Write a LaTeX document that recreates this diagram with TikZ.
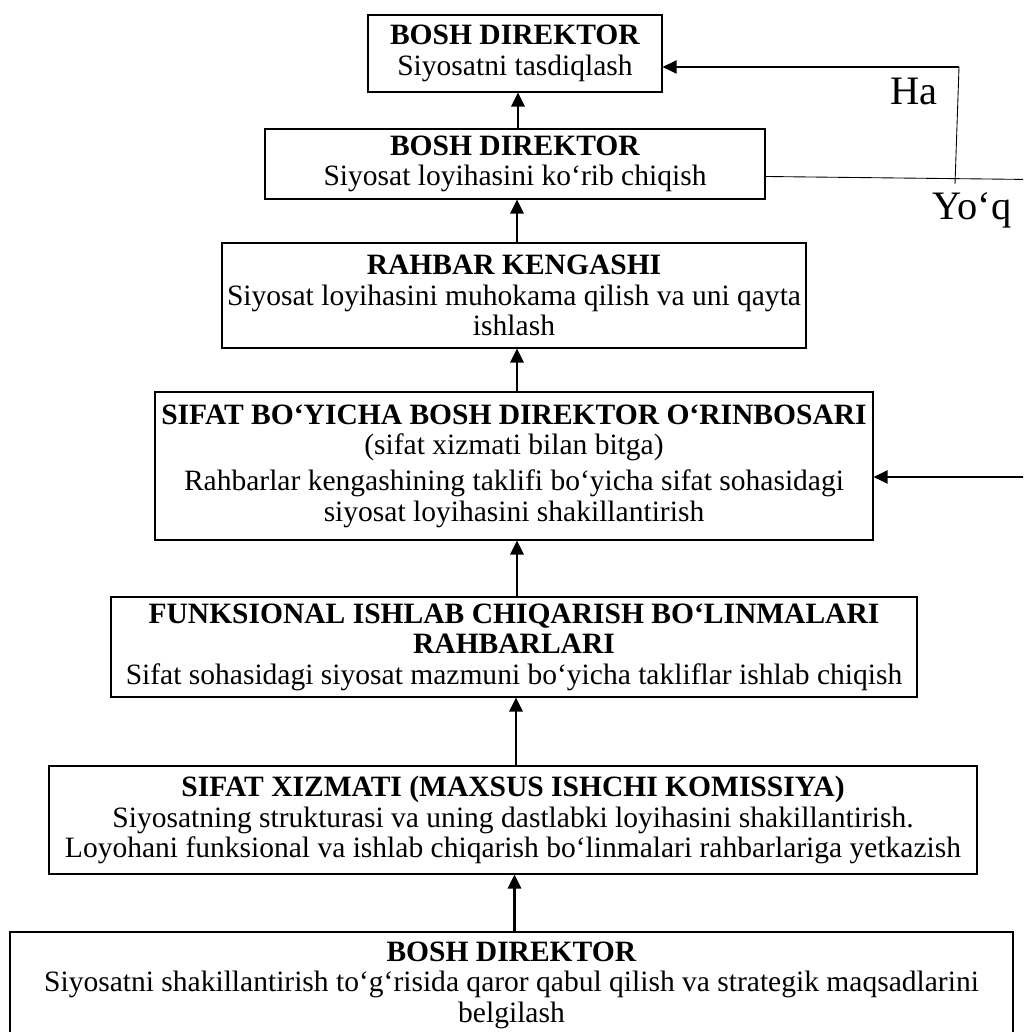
\documentclass[tikz,border=0pt]{standalone}
\usepackage{fontspec}
\setmainfont{Liberation Serif}
\usepackage{tikz}
\usetikzlibrary{arrows.meta, positioning, calc}

\begin{document}
\begin{tikzpicture}[
        block/.style={rectangle, draw, line width=0.6pt, inner sep=0pt, align=center, font=\fontsize{16.8}{17.4}\selectfont},
        arrow/.style={-{Triangle[length=0.28cm, width=0.26cm]}, line width=1.6pt},
        link/.style={line width=0.5pt},
        answer/.style={anchor=base west, inner sep=0pt, font=\fontsize{23}{26}\selectfont}
    ]
        \clip (0,0) rectangle (20.46,20.64);

        \node[block, minimum width=5.88cm,  minimum height=1.54cm] (b1) at (10.30,19.57) {\textbf{BOSH DIREKTOR}\\Siyosatni tasdiqlash};
        \node[block, minimum width=10.0cm,  minimum height=1.40cm] (b2) at (10.30,17.36) {\textbf{BOSH DIREKTOR}\\Siyosat loyihasini ko‘rib chiqish};
        \node[block, minimum width=11.68cm, minimum height=2.10cm] (b3) at (10.28,14.73) {\textbf{RAHBAR KENGASHI}\\Siyosat loyihasini muhokama qilish va uni qayta\\ishlash};
        \node[block, minimum width=14.36cm, minimum height=2.96cm] (b4) at (10.28,11.32) {\textbf{SIFAT BO‘YICHA BOSH DIREKTOR O‘RINBOSARI}\\(sifat xizmati bilan bitga)\\[3pt]Rahbarlar kengashining taklifi bo‘yicha sifat sohasidagi\\siyosat loyihasini shakillantirish};
        \node[block, minimum width=16.12cm, minimum height=2.00cm] (b5) at (10.28,7.70) {\textbf{FUNKSIONAL ISHLAB CHIQARISH BO‘LINMALARI}\\\textbf{RAHBARLARI}\\Sifat sohasidagi siyosat mazmuni bo‘yicha takliflar ishlab chiqish};
        \node[block, minimum width=18.56cm, minimum height=2.16cm] (b6) at (10.26,4.24) {\textbf{SIFAT XIZMATI (MAXSUS ISHCHI KOMISSIYA)}\\Siyosatning strukturasi va uning dastlabki loyihasini shakillantirish.\\Loyohani funksional va ishlab chiqarish bo‘linmalari rahbarlariga yetkazish};
        \node[block, minimum width=20.06cm, minimum height=2.12cm] (b7) at (10.23,0.94) {\textbf{BOSH DIREKTOR}\\Siyosatni shakillantirish to‘g‘risida qaror qabul qilish va strategik maqsadlarini\\belgilash};

        \foreach \lo/\hi in {b7/b6, b6/b5, b5/b4, b4/b3, b3/b2, b2/b1}
            \draw[arrow] ($(\lo.north)+(0.06,0)$) -- ($(\lo.north |- \hi.south)+(0.06,0)$);

        % Decision loop on the right
        \coordinate (ha)   at (19.18,19.30);
        \coordinate (yq)   at (19.10,16.96);
        \coordinate (out)  at (20.60,17.05);
        \coordinate (back) at (20.60,11.10);

        \draw[-{Triangle[length=0.28cm, width=0.26cm]}, line width=1.1pt] (ha) -- (ha -| b1.east);
        \draw[link] (ha) -- (yq);
        \draw[link] ($(b2.east)+(0,-0.25)$) -- (out);
        \draw[-{Triangle[length=0.28cm, width=0.26cm]}, line width=1.1pt] (back) -- (back -| b4.east);

        \node[answer] (lblha) at (17.80,18.54) {Ha};
        \node[answer] (lblyq) at (18.64,16.24) {Yo‘q};
    \end{tikzpicture}
\end{document}
